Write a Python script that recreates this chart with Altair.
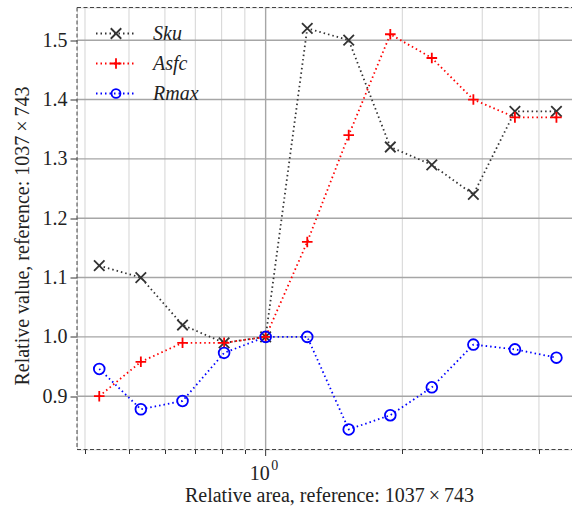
import altair as alt
import pandas as pd

# Relative area of each crop (reference area = 1)
rel_area = [0.430, 0.531, 0.656, 0.810, 1.0, 1.235, 1.524, 1.882, 2.323, 2.868, 3.541, 4.371]

# Relative parameter values per series
sku = [1.12, 1.10, 1.02, 0.99, 1.00, 1.52, 1.50, 1.32, 1.29, 1.24, 1.38, 1.38]
asfc = [0.90, 0.958, 0.99, 0.99, 1.00, 1.16, 1.34, 1.51, 1.47, 1.40, 1.37, 1.37]
rmax = [0.946, 0.878, 0.892, 0.973, 1.00, 1.00, 0.844, 0.868, 0.915, 0.987, 0.979, 0.965]

series_names = ["Sku", "Asfc", "Rmax"]
series_colors = ["#333333", "#ff0000", "#0000ff"]
series_shapes = ["M-1,-1L1,1M-1,1L1,-1", "M-1,0L1,0M0,-1L0,1", "circle"]
series_sizes = [110, 115, 80]

# Grid / tick positions on the log axis
minor_x = [0.4, 0.5, 0.6, 0.7, 0.8, 0.9, 2, 3, 4]
major_x = [1]
y_ticks = [0.9, 1.0, 1.1, 1.2, 1.3, 1.4, 1.5]

W, H = 495, 442
SERIF = "Times New Roman, Liberation Serif, DejaVu Serif, serif"
FS = 20
XTITLE = "Relative area, reference: 1037\u2009×\u2009743"
YTITLE = "Relative value, reference: 1037\u2009×\u2009743"

rows = []
for name, vals in zip(series_names, [sku, asfc, rmax]):
    for xv, yv in zip(rel_area, vals):
        rows.append({"area": xv, "value": yv, "series": name})
df = pd.DataFrame(rows)

xscale = alt.Scale(type="log", domain=[0.3841, 4.73], nice=False)
yscale = alt.Scale(domain=[0.8102, 1.5551], nice=False, zero=False)
color = alt.Color("series:N", scale=alt.Scale(domain=series_names, range=series_colors), legend=None)

xaxis = alt.Axis(
    values=minor_x, grid=False, domain=False, labels=False,
    tickSize=4, tickColor="#333333", tickWidth=1,
    titleFont=SERIF, titleFontSize=FS, titleFontWeight="normal",
    titleColor="#222222", titleX=252, titleY=51.5,
    titleAlign="center", titleBaseline="alphabetic",
)
yaxis = alt.Axis(
    values=y_ticks, format=".1f", grid=False, domain=False,
    tickSize=7, tickColor="#333333", tickWidth=1,
    labelFont=SERIF, labelFontSize=FS, labelColor="#222222",
    labelPadding=3,
    titleFont=SERIF, titleFontSize=FS, titleFontWeight="normal",
    titleColor="#222222", titleX=-49, titleY=228,
    titleAlign="center", titleBaseline="alphabetic", titleAngle=-90,
)

# Grid lines
vgrid_minor = alt.Chart(pd.DataFrame({"v": minor_x})).mark_rule(
    color="#d4d4d4", strokeWidth=1
).encode(x=alt.X("v:Q", scale=xscale, axis=xaxis, title=XTITLE))
vgrid_major = alt.Chart(pd.DataFrame({"v": major_x})).mark_rule(
    color="#a6a6a6", strokeWidth=1.4
).encode(x=alt.X("v:Q", scale=xscale, axis=xaxis, title=XTITLE))
hgrid = alt.Chart(pd.DataFrame({"v": y_ticks})).mark_rule(
    color="#a6a6a6", strokeWidth=1.4
).encode(y=alt.Y("v:Q", scale=yscale, axis=yaxis, title=YTITLE))

# Major tick at x = 1 with its 10^0 label (base and exponent)
major_df = pd.DataFrame({"v": major_x})
major_tick = alt.Chart(major_df).mark_rule(color="#333333", strokeWidth=1).encode(
    x=alt.X("v:Q", scale=xscale, axis=xaxis, title=XTITLE),
    y=alt.value(H), y2=alt.value(H + 6.5))
label_base = alt.Chart(major_df).mark_text(
    text="10", font=SERIF, fontSize=FS, color="#222222",
    align="right", baseline="alphabetic", dx=4,
).encode(x=alt.X("v:Q", scale=xscale, axis=xaxis, title=XTITLE), y=alt.value(H + 30))
label_exp = alt.Chart(major_df).mark_text(
    text="0", font=SERIF, fontSize=14, color="#222222",
    align="left", baseline="alphabetic", dx=5.5,
).encode(x=alt.X("v:Q", scale=xscale, axis=xaxis, title=XTITLE), y=alt.value(H + 20.5))

# Dashed frame on top, left and bottom
frame_style = dict(color="#444444", strokeWidth=1, strokeDash=[4, 2.5])
frame_top = alt.Chart().mark_rule(**frame_style).encode(
    x=alt.value(0), x2=alt.value(W), y=alt.value(0))
frame_bottom = alt.Chart().mark_rule(**frame_style).encode(
    x=alt.value(0), x2=alt.value(W), y=alt.value(H))
frame_left = alt.Chart().mark_rule(**frame_style).encode(
    x=alt.value(0), y=alt.value(0), y2=alt.value(H))

base = alt.Chart(df)
xenc = alt.X("area:Q", scale=xscale, axis=xaxis, title=XTITLE)
yenc = alt.Y("value:Q", scale=yscale, axis=yaxis, title=YTITLE)

lines = base.mark_line(strokeDash=[1.5, 3], strokeWidth=1.8).encode(
    x=xenc, y=yenc, color=color, order=alt.Order("area:Q"),
)

points = base.mark_point(filled=False, strokeWidth=1.8, opacity=1).encode(
    x=xenc, y=yenc, color=color,
    shape=alt.Shape("series:N", scale=alt.Scale(domain=series_names, range=series_shapes), legend=None),
    size=alt.Size("series:N", scale=alt.Scale(domain=series_names, range=series_sizes), legend=None),
)

# Legend in the upper-left corner
legend_layers = []
for i, (name, col, shp, sz) in enumerate(zip(series_names, series_colors, series_shapes, series_sizes)):
    ly = 26 + 30 * i
    legend_layers.append(alt.Chart().mark_rule(color=col, strokeDash=[1.5, 3], strokeWidth=1.8).encode(
        x=alt.value(19), x2=alt.value(59), y=alt.value(ly)))
    legend_layers.append(alt.Chart().mark_point(
        shape=shp, size=sz, color=col, filled=False, strokeWidth=1.8, opacity=1
    ).encode(x=alt.value(39), y=alt.value(ly)))
    legend_layers.append(alt.Chart().mark_text(
        text=name, font=SERIF, fontSize=FS, fontStyle="italic", color="#222222",
        align="left", baseline="middle"
    ).encode(x=alt.value(76), y=alt.value(ly)))

chart = alt.layer(
    vgrid_minor, vgrid_major, hgrid, major_tick, label_base, label_exp,
    lines, points,
    frame_top, frame_bottom, frame_left,
    *legend_layers,
).properties(
    width=W, height=H,
    autosize=alt.AutoSizeParams(type="none"),
    padding={"left": 77, "top": 7.5, "right": 0, "bottom": 63.5},
).configure_view(stroke=None).configure(background="white")

chart.save("out.html", embed_options={"renderer": "svg", "actions": False})
